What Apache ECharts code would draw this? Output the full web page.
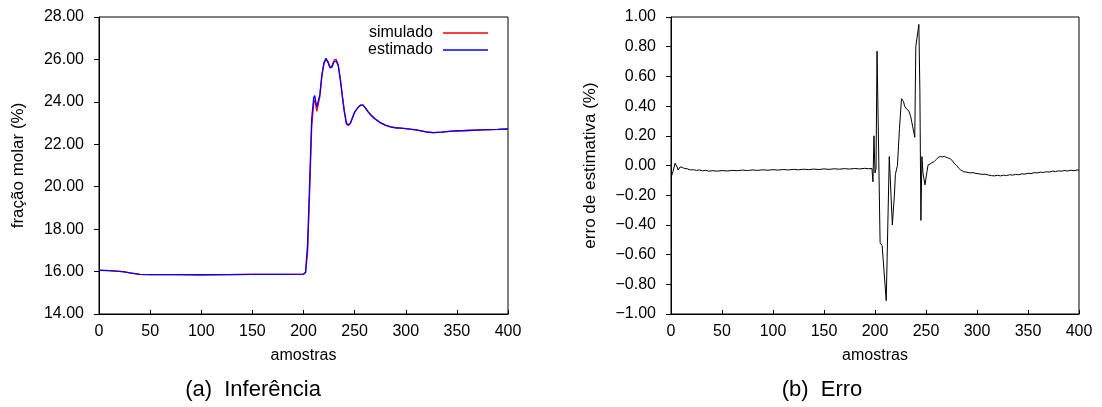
<!DOCTYPE html>
<html>
<head>
<meta charset="utf-8">
<script src="https://cdn.jsdelivr.net/npm/echarts@6/dist/echarts.min.js"></script>
<style>
  html, body { margin: 0; padding: 0; background: #fff; }
  #chart { width: 1102px; height: 407px; }
</style>
</head>
<body>
<div id="chart"></div>
<script>
// Samples (x) and molar fraction values (%) for the inference plot
const amostrasInf = [0, 10, 20, 25, 30, 35, 40, 50, 75, 100, 125, 150, 175, 200, 202, 204, 206, 208, 210, 211, 212, 213, 214, 216, 218, 220, 222, 224, 226, 228, 230, 232, 234, 236, 238, 240, 242, 244, 246, 248, 250, 253, 256, 258, 260, 263, 266, 270, 275, 280, 285, 290, 295, 300, 310, 320, 327, 335, 345, 360, 375, 390, 400];
const simulado = [16.07, 16.04, 16.01, 15.99, 15.94, 15.90, 15.87, 15.86, 15.86, 15.85, 15.86, 15.87, 15.87, 15.88, 15.95, 16.9, 19.7, 22.8, 23.95, 24.1, 23.85, 23.55, 23.6, 24.25, 25.2, 25.8, 26.0, 25.9, 25.62, 25.72, 25.98, 26.0, 25.75, 25.1, 24.3, 23.55, 23.02, 22.88, 23.0, 23.25, 23.5, 23.72, 23.85, 23.85, 23.75, 23.55, 23.38, 23.2, 23.02, 22.9, 22.82, 22.78, 22.76, 22.74, 22.68, 22.58, 22.55, 22.57, 22.62, 22.65, 22.68, 22.7, 22.72];
const estimado = [16.06, 16.04, 16.01, 15.99, 15.94, 15.90, 15.87, 15.86, 15.86, 15.85, 15.86, 15.87, 15.87, 15.88, 15.97, 17.3, 20.2, 23.2, 24.2, 24.3, 24.0, 23.75, 23.7, 24.35, 25.3, 25.85, 26.05, 25.85, 25.6, 25.65, 25.9, 25.92, 25.7, 25.05, 24.25, 23.5, 22.95, 22.92, 23.02, 23.27, 23.52, 23.72, 23.85, 23.85, 23.74, 23.54, 23.37, 23.19, 23.02, 22.9, 22.82, 22.78, 22.76, 22.74, 22.68, 22.58, 22.55, 22.57, 22.62, 22.65, 22.68, 22.7, 22.72];

// Samples (x) and estimation error values (%)
const amostrasErro = [0, 2, 4, 6, 7, 9, 11, 13, 16, 19, 22, 25, 28, 31, 34, 37, 41, 45, 50, 55, 60, 65, 70, 75, 80, 85, 90, 95, 100, 105, 110, 115, 120, 125, 130, 135, 140, 145, 150, 155, 160, 165, 170, 175, 180, 185, 190, 194, 197, 198, 199, 200, 201, 202, 205, 207, 211, 214, 217, 219, 220, 221, 222, 224, 226, 228, 229, 231, 233, 235, 237, 239, 240, 243, 244, 245, 246, 247, 249, 251, 252, 254, 256, 258, 260, 262, 264, 266, 268, 270, 272, 274, 276, 278, 280, 282, 284, 287, 290, 293, 296, 299, 302, 305, 308, 311, 314, 317, 320, 323, 326, 329, 332, 335, 338, 341, 344, 347, 350, 353, 356, 359, 362, 365, 368, 371, 374, 377, 380, 383, 386, 389, 392, 395, 398, 400];
const erro = [-0.08, -0.04, 0.015, -0.01, -0.03, -0.01, -0.012, -0.02, -0.022, -0.03, -0.028, -0.033, -0.03, -0.036, -0.032, -0.038, -0.035, -0.038, -0.034, -0.037, -0.033, -0.035, -0.031, -0.034, -0.03, -0.033, -0.029, -0.032, -0.028, -0.031, -0.027, -0.03, -0.026, -0.029, -0.025, -0.028, -0.024, -0.027, -0.023, -0.026, -0.022, -0.025, -0.021, -0.024, -0.02, -0.023, -0.019, -0.022, -0.02, -0.11, 0.2, -0.05, -0.02, 0.77, -0.52, -0.54, -0.91, 0.06, -0.40, -0.2, -0.06, -0.03, 0.0, 0.25, 0.45, 0.43, 0.40, 0.38, 0.37, 0.33, 0.26, 0.19, 0.80, 0.95, 0.5, -0.37, 0.06, -0.05, -0.13, -0.04, 0.003, 0.01, 0.02, 0.026, 0.04, 0.055, 0.06, 0.058, 0.062, 0.055, 0.05, 0.045, 0.03, 0.012, 0.0, -0.018, -0.03, -0.042, -0.045, -0.05, -0.048, -0.053, -0.056, -0.06, -0.058, -0.064, -0.068, -0.07, -0.066, -0.07, -0.065, -0.068, -0.062, -0.065, -0.06, -0.062, -0.056, -0.058, -0.052, -0.055, -0.048, -0.05, -0.045, -0.047, -0.042, -0.044, -0.038, -0.041, -0.036, -0.038, -0.034, -0.037, -0.032, -0.035, -0.03, -0.032];

// Axis ranges [min, max, interval]
const xRange = [0, 400, 50];
const yRangeInf = [14, 28, 2];
const yRangeErro = [-1, 1, 0.2];

const FONT = '"Liberation Sans", Arial, sans-serif';
const fmt2 = v => (v < 0 ? '\u2212' + Math.abs(v).toFixed(2) : v.toFixed(2));
const pairs = (xs, ys) => xs.map((x, i) => [x, ys[i]]);

const tickText = { color: '#000', fontFamily: FONT, fontSize: 16 };

function xAxisFor(gridIndex) {
  return {
    type: 'value', gridIndex,
    min: xRange[0], max: xRange[1], interval: xRange[2],
    name: 'amostras', nameLocation: 'middle', nameGap: 34,
    nameTextStyle: { color: '#000', fontFamily: FONT, fontSize: 16 },
    axisLine: { onZero: false, lineStyle: { color: '#000', width: 1 } },
    axisTick: { inside: true, length: 4, lineStyle: { color: '#000' } },
    axisLabel: Object.assign({ margin: 10 }, tickText),
    splitLine: { show: false }
  };
}

function yAxisFor(gridIndex, range, name) {
  return {
    type: 'value', gridIndex,
    min: range[0], max: range[1], interval: range[2],
    name, nameLocation: 'middle', nameGap: 72, nameRotate: 90,
    nameTextStyle: { color: '#000', fontFamily: FONT, fontSize: 17 },
    axisLine: { show: true, onZero: false, lineStyle: { color: '#000', width: 1 } },
    axisTick: { show: true, inside: false, length: 5, lineStyle: { color: '#000' } },
    axisLabel: Object.assign({ margin: 15, formatter: fmt2 }, tickText),
    splitLine: { show: false }
  };
}

const chart = echarts.init(document.getElementById('chart'), null, { renderer: 'canvas' });
chart.setOption({
  animation: false,
  backgroundColor: '#fff',
  grid: [
    { left: 99, right: 594, top: 17, bottom: 93, show: true, borderColor: '#000', borderWidth: 1 },
    { left: 671, right: 23, top: 17, bottom: 93, show: true, borderColor: '#000', borderWidth: 1 }
  ],
  xAxis: [xAxisFor(0), xAxisFor(1)],
  yAxis: [
    yAxisFor(0, yRangeInf, 'fração molar (%)'),
    yAxisFor(1, yRangeErro, 'erro de estimativa (%)')
  ],
  legend: {
    orient: 'vertical',
    right: 614, top: 25,
    padding: 0,
    align: 'right',
    itemWidth: 45, itemHeight: 1.5, itemGap: 1,
    icon: 'rect',
    textStyle: { color: '#000', fontFamily: FONT, fontSize: 16, padding: [0, 5, 0, 0] },
    data: ['simulado', 'estimado']
  },
  series: [
    {
      name: 'simulado', type: 'line', xAxisIndex: 0, yAxisIndex: 0,
      data: pairs(amostrasInf, simulado), showSymbol: false, symbol: 'none',
      itemStyle: { color: '#ff0000' }, lineStyle: { color: '#ff0000', width: 1.3 }
    },
    {
      name: 'estimado', type: 'line', xAxisIndex: 0, yAxisIndex: 0,
      data: pairs(amostrasInf, estimado), showSymbol: false, symbol: 'none',
      itemStyle: { color: '#0000ff' }, lineStyle: { color: '#0000ff', width: 1.3 }
    },
    {
      name: 'erro', type: 'line', xAxisIndex: 1, yAxisIndex: 1,
      data: pairs(amostrasErro, erro), showSymbol: false, symbol: 'none',
      itemStyle: { color: '#000' }, lineStyle: { color: '#000', width: 1 }
    }
  ],
  graphic: [
    { type: 'text', x: 253, y: 390, style: { text: '(a)  Inferência', align: 'center', verticalAlign: 'middle', fill: '#000', font: '22px ' + FONT } },
    { type: 'text', x: 822, y: 390, style: { text: '(b)  Erro', align: 'center', verticalAlign: 'middle', fill: '#000', font: '22px ' + FONT } }
  ]
});
</script>
</body>
</html>
